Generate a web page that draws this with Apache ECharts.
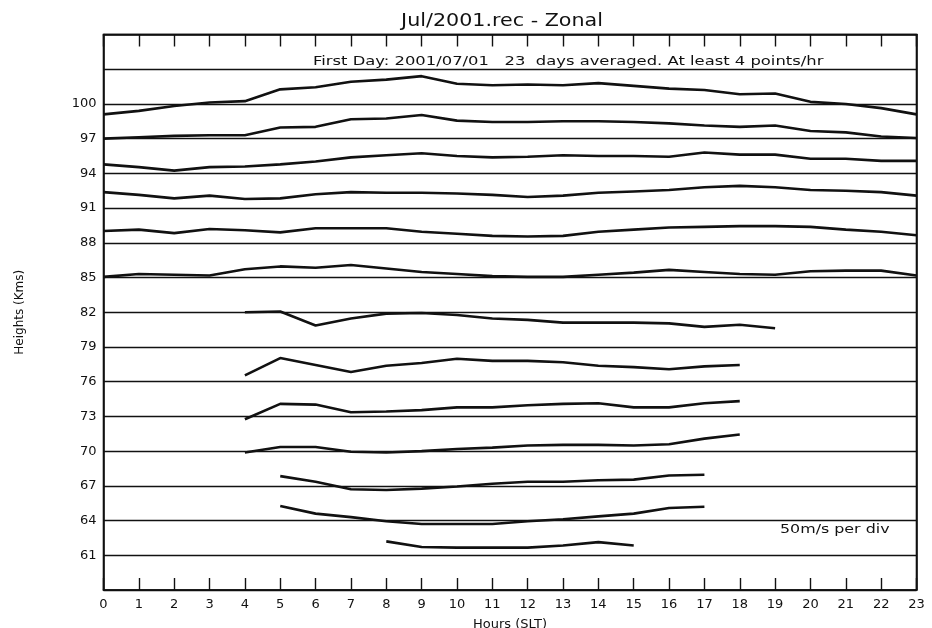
<!DOCTYPE html>
<html>
<head>
<meta charset="utf-8">
<script src="https://cdn.jsdelivr.net/npm/echarts@6/dist/echarts.min.js"></script>
<style>
  html, body { margin: 0; padding: 0; background: #fff; }
  #chart { width: 932px; height: 628px; }
</style>
</head>
<body>
<div id="chart"></div>
<script>
// hours of the day (SLT)
var hours = [0, 1, 2, 3, 4, 5, 6, 7, 8, 9, 10, 11, 12, 13, 14, 15, 16, 17, 18, 19, 20, 21, 22, 23];
// height labels on the left axis (km)
var heightLabels = [61, 64, 67, 70, 73, 76, 79, 82, 85, 88, 91, 94, 97, 100];

// zonal wind (m/s), plotted on top of its height line
var zonal100 = [-15, -10, -3, 2, 4, 21, 24, 32, 35, 40, 29, 27, 28, 27, 30, 26, 22, 20, 14, 15, 3, 0, -6, -15];
var zonal97 = [0, 2, 4, 5, 5, 16, 17, 28, 29, 34, 26, 24, 24, 25, 25, 24, 22, 19, 17, 19, 11, 9, 3, 1];
var zonal94 = [13, 9, 4, 9, 10, 13, 17, 23, 26, 29, 25, 23, 24, 26, 25, 25, 24, 30, 27, 27, 21, 21, 18, 18];
var zonal91 = [23, 19, 14, 18, 13, 14, 20, 23, 22, 22, 21, 19, 16, 18, 22, 24, 26, 30, 32, 30, 26, 25, 23, 18];
var zonal88 = [17, 19, 14, 20, 18, 15, 21, 21, 21, 16, 13, 10, 9, 10, 16, 19, 22, 23, 24, 24, 23, 19, 16, 11];
var zonal85 = [1, 5, 4, 3, 12, 16, 14, 18, 13, 8, 5, 2, 1, 1, 4, 7, 11, 8, 5, 4, 9, 10, 10, 3];
var zonal82 = [0, 1, -19, -9, -2, -1, -4, -9, -11, -15, -15, -15, -16, -21, -18, -23];   // from 4h
var zonal76 = [9, 34, 24, 14, 23, 27, 33, 30, 30, 28, 23, 21, 18, 22, 24];               // from 4h
var zonal73 = [-4, 18, 17, 6, 7, 9, 13, 13, 16, 18, 19, 13, 13, 19, 22];                 // from 4h
var zonal70 = [-2, 6, 6, -1, -2, 0, 3, 5, 8, 9, 9, 8, 10, 18, 24];                       // from 4h
var zonal67 = [14, 6, -5, -6, -4, -1, 3, 6, 6, 8, 9, 15, 16];                            // from 5h
var zonal64 = [21, 10, 5, -1, -5, -5, -5, -1, 2, 6, 10, 18, 20];                         // from 5h
var zonal61 = [20, 12, 11, 11, 11, 14, 19, 14];                                          // from 8h

var profileHeights = [100, 97, 94, 91, 88, 85, 82, 76, 73, 70, 67, 64, 61];
var profileStart = [0, 0, 0, 0, 0, 0, 4, 4, 4, 4, 5, 5, 8];
var profileWinds = [zonal100, zonal97, zonal94, zonal91, zonal88, zonal85, zonal82,
                    zonal76, zonal73, zonal70, zonal67, zonal64, zonal61];

// 50 m/s per division, one division = 3 km
var msPerDiv = 50, kmPerDiv = 3;

var font = 'DejaVu Sans';
var ink = '#111';

var myChart = echarts.init(document.getElementById('chart'));

var series = profileHeights.map(function (h, i) {
  var start = profileStart[i];
  return {
    type: 'line',
    name: h + ' km',
    showSymbol: false,
    symbol: 'none',
    animation: false,
    lineStyle: { color: ink, width: 2.6 },
    data: profileWinds[i].map(function (w, j) {
      return [hours[start + j], h + w / msPerDiv * kmPerDiv];
    })
  };
});

// plotter text is wider than the screen font, so stretch it a little
function label(text, x, y, size, stretch, align) {
  return {
    type: 'text',
    x: x, y: y,
    scaleX: stretch,
    style: {
      text: text, x: 0, y: 0,
      fontFamily: font, fontSize: size,
      align: align || 'left', verticalAlign: 'middle',
      fill: ink
    }
  };
}

var option = {
  backgroundColor: '#fff',
  animation: false,
  grid: {
    left: 103.5, right: 15.5, top: 34.5, bottom: 38,
    outerBoundsMode: 'none',
    show: true, borderColor: ink, borderWidth: 1.6
  },
  xAxis: [{
    type: 'value',
    position: 'bottom',
    min: 0, max: 23, interval: 1,
    name: 'Hours (SLT)',
    nameLocation: 'middle',
    nameGap: 28,
    nameTextStyle: { fontFamily: font, fontSize: 13, color: ink },
    axisLine: { show: true, onZero: false, lineStyle: { color: ink, width: 1.6 } },
    axisTick: { show: true, inside: true, length: 12, lineStyle: { color: ink, width: 1.4 } },
    axisLabel: { fontFamily: font, fontSize: 13, color: ink, margin: 8 },
    splitLine: { show: false }
  }, {
    type: 'value',
    position: 'top',
    min: 0, max: 23, interval: 1,
    axisLine: { show: true, onZero: false, lineStyle: { color: ink, width: 1.6 } },
    axisTick: { show: true, inside: true, length: 12, lineStyle: { color: ink, width: 1.4 } },
    axisLabel: { show: false },
    splitLine: { show: false }
  }],
  yAxis: [{
    type: 'value',
    position: 'left',
    min: 58, max: 106, interval: 3,
    name: 'Heights (Kms)',
    nameLocation: 'middle',
    nameGap: 78,
    nameTextStyle: { fontFamily: font, fontSize: 12, color: ink },
    axisLine: { show: true, onZero: false, lineStyle: { color: ink, width: 1.6 } },
    axisTick: { show: false },
    axisLabel: {
      fontFamily: font, fontSize: 13, color: ink, margin: 7,
      formatter: function (v) { return heightLabels.indexOf(v) >= 0 ? String(v) : ''; }
    },
    splitLine: { show: true, lineStyle: { color: ink, width: 1.3 } }
  }, {
    type: 'value',
    position: 'right',
    min: 58, max: 106, interval: 3,
    axisLine: { show: true, onZero: false, lineStyle: { color: ink, width: 1.6 } },
    axisTick: { show: false },
    axisLabel: { show: false },
    splitLine: { show: false }
  }],
  graphic: [
    label('Jul/2001.rec - Zonal', 502, 21, 17.5, 1.18, 'center'),
    label('First Day: 2001/07/01   23  days averaged. At least 4 points/hr', 313, 62, 12.5, 1.31),
    label('50m/s per div', 780, 530, 13, 1.22)
  ],
  series: series
};

myChart.setOption(option);
</script>
</body>
</html>
